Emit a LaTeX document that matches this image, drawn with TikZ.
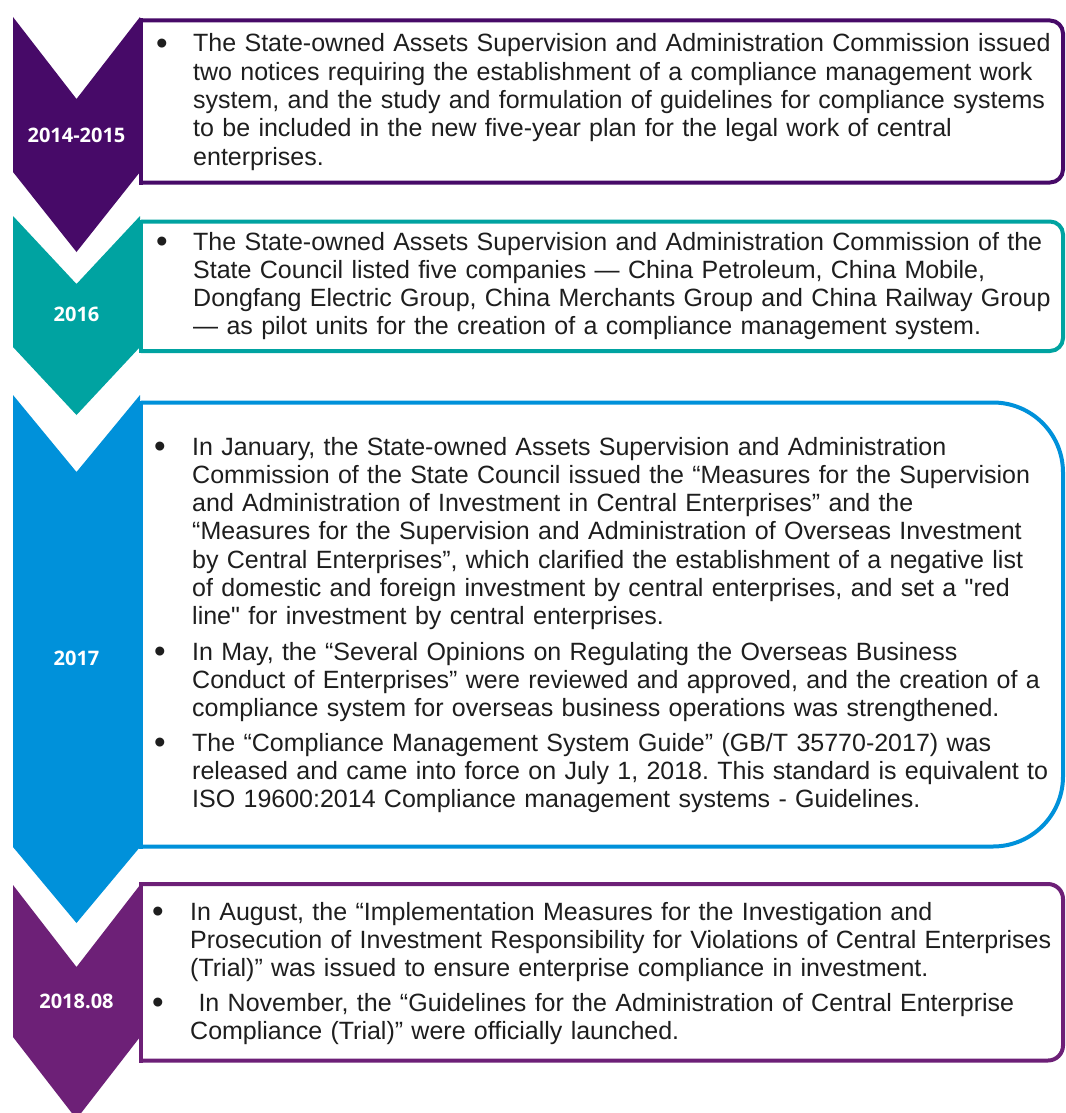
\documentclass[tikz,border=0pt]{standalone}
\usepackage{fontspec}
\setmainfont{Liberation Sans}[Ligatures=TeXOff]
\newfontfamily\yearfont{Open Sans}
\definecolor{cA}{HTML}{470A68}
\definecolor{cB}{HTML}{00A3A1}
\definecolor{cC}{HTML}{0091DA}
\definecolor{cD}{HTML}{6D2077}
\definecolor{ink}{HTML}{1E1E1E}
\frenchspacing
\tikzset{
  chev/.style={fill=#1, draw=none},
  boxframe/.style={draw=#1, line width=4pt},
  yr/.style={font=\yearfont\bfseries\fontsize{20}{24}\selectfont, text=white, inner sep=0pt, anchor=center},
  body/.style={anchor=base west, inner sep=0pt, text width=900pt, align=left, font=\fontsize{25}{28.3}\selectfont\frenchspacing, text=ink},
  bul/.style={anchor=base, inner sep=0pt, font=\fontsize{33}{36}\selectfont, text=ink},
}
\begin{document}
\begin{tikzpicture}[x=1pt,y=-1pt]
\useasboundingbox (0,0) rectangle (1065,1113);
\clip (0,0) rectangle (1065,1113);
\fill[white] (0,0) rectangle (1065,1113);

% chevrons
\fill[chev=cA] (13,17) -- (76.5,99) -- (140,17) -- (140,172) -- (76.5,252) -- (13,172) -- cycle;
\fill[chev=cB] (13,216) -- (76.5,284) -- (140,216) -- (140,347) -- (76.5,415) -- (13,347) -- cycle;
\fill[chev=cC] (13,395) -- (76.5,472) -- (140,395) -- (140,847) -- (76.5,923) -- (13,847) -- cycle;
\fill[chev=cD] (13,885) -- (76.5,967) -- (140,885) -- (140,1037) -- (76.5,1119) -- (13,1037) -- cycle;

% boxes
\draw[boxframe=cA, rounded corners=13pt] (141,20.5) -- (1063,20.5) -- (1063,182.5) -- (141,182.5);
\draw[boxframe=cA] (141,18.5) -- (141,184.5);
\draw[boxframe=cB, rounded corners=13pt] (141,221.5) -- (1063,221.5) -- (1063,351) -- (141,351);
\draw[boxframe=cB] (141,219.5) -- (141,353);
\draw[boxframe=cC, rounded corners=70pt] (141,402.5) -- (1063,402.5) -- (1063,846.5) -- (141,846.5);
\draw[boxframe=cC] (141,400.5) -- (141,848.5);
\draw[boxframe=cD, rounded corners=15pt] (141,884) -- (1063,884) -- (1063,1060.5) -- (141,1060.5);
\draw[boxframe=cD] (141,882) -- (141,1062.5);

% years
\node[yr] (y1) at (76.5,135) {2014-2015};
\node[yr] (y2) at (76.5,314) {2016};
\node[yr] (y3) at (76.5,658) {2017};
\node[yr] (y4) at (76.5,1001) {2018.08};

% box 1
\node[bul] (b1) at (162,54.5) {•};
\node[body] (t1) at (193,52) {The State-owned Assets Supervision and Administration Commission issued\\
two notices requiring the establishment of a compliance management work\\
system, and the study and formulation of guidelines for compliance systems\\
to be included in the new five-year plan for the legal work of central\\
enterprises.};

% box 2
\node[bul] (b2) at (162,252.5) {•};
\node[body] (t2) at (193,250) {The State-owned Assets Supervision and Administration Commission of the\\
State Council listed five companies — China Petroleum, China Mobile,\\
Dongfang Electric Group, China Merchants Group and China Railway Group\\
— as pilot units for the creation of a compliance management system.};

% box 3
\node[bul] (b3) at (160,457.5) {•};
\node[body] (t3) at (192,455) {In January, the State-owned Assets Supervision and Administration\\
Commission of the State Council issued the “Measures for the Supervision\\
and Administration of Investment in Central Enterprises” and the\\
“Measures for the Supervision and Administration of Overseas Investment\\
by Central Enterprises”, which clarified the establishment of a negative list\\
of domestic and foreign investment by central enterprises, and set a "red\\
line" for investment by central enterprises.};
\node[bul] (b4) at (160,662.5) {•};
\node[body] (t4) at (192,660) {In May, the “Several Opinions on Regulating the Overseas Business\\
Conduct of Enterprises” were reviewed and approved, and the creation of a\\
compliance system for overseas business operations was strengthened.};
\node[bul] (b5) at (160,753.5) {•};
\node[body] (t5) at (192,751) {The “Compliance Management System Guide” (GB/T 35770-2017) was\\
released and came into force on July 1, 2018. This standard is equivalent to\\
ISO 19600:2014 Compliance management systems - Guidelines.};

% box 4
\node[bul] (b6) at (158,922.5) {•};
\node[body] (t6) at (190,920) {In August, the “Implementation Measures for the Investigation and\\
Prosecution of Investment Responsibility for Violations of Central Enterprises\\
(Trial)” was issued to ensure enterprise compliance in investment.};
\node[bul] (b7) at (158,1013.5) {•};
\node[body] (t7) at (190,1011) {\ In November, the “Guidelines for the Administration of Central Enterprise\\
Compliance (Trial)” were officially launched.};
\end{tikzpicture}
\end{document}
